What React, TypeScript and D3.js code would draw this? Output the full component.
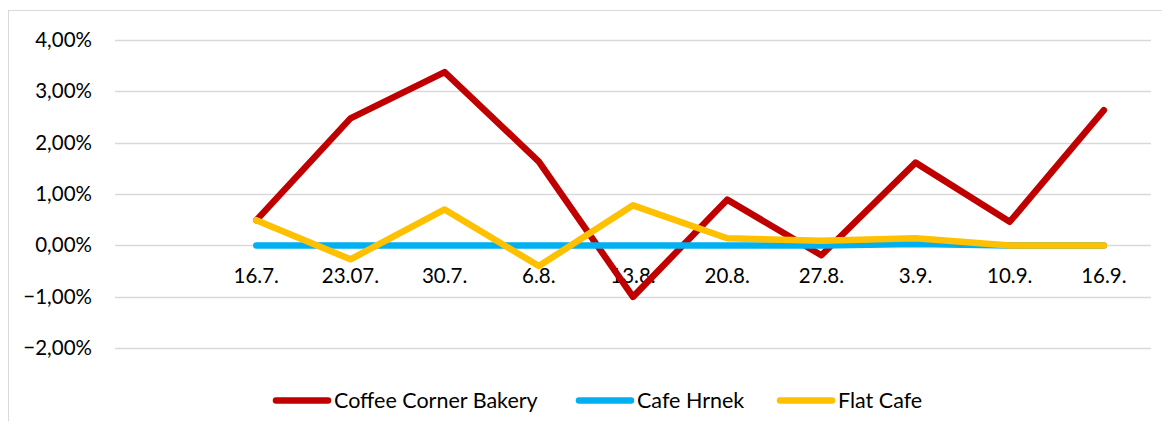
import React, { useEffect, useRef } from "react";
import * as d3 from "d3";

const categories = ["", "16.7.", "23.07.", "30.7.", "6.8.", "13.8.", "20.8.", "27.8.", "3.9.", "10.9.", "16.9."];
const coffeeCorner = [0.49, 2.47, 3.37, 1.63, -1.0, 0.89, -0.19, 1.61, 0.46, 2.63];
const cafeHrnek = [0, 0, 0, 0, 0, 0, 0, 0.03, 0, 0];
const flatCafe = [0.49, -0.27, 0.7, -0.4, 0.78, 0.14, 0.09, 0.14, 0, 0];
const yTicks = [4, 3, 2, 1, 0, -1, -2];
const seriesNames = ["Coffee Corner Bakery", "Cafe Hrnek", "Flat Cafe"];
const seriesColors = ["#c00000", "#00b0f0", "#ffc000"];

const W = 1170;
const H = 429;
const FONT = "Lato, 'Noto Sans', sans-serif";

export default function App() {
  const ref = useRef<SVGSVGElement | null>(null);

  useEffect(() => {
    const svg = d3.select(ref.current);
    svg.selectAll("*").remove();

    const x = d3.scaleBand().domain(categories.map((c, i) => String(i))).range([115, 1151]);
    const y = d3.scaleLinear().domain([-2, 4]).range([348.3, 39.7]);

    svg.append("rect").attr("width", W).attr("height", H).attr("fill", "#fff");
    svg.append("rect")
      .attr("x", 8.5).attr("y", 10.5).attr("width", 1170).attr("height", 430)
      .attr("fill", "none").attr("stroke", "#d9d9d9").attr("stroke-width", 1);

    // gridlines
    svg.append("g").selectAll("line").data(yTicks).join("line")
      .attr("x1", 115).attr("x2", 1151)
      .attr("y1", (d) => Math.round(y(d)) + 0.5).attr("y2", (d) => Math.round(y(d)) + 0.5)
      .attr("stroke", "#d9d9d9").attr("stroke-width", 1.3);

    // y labels
    svg.append("g").selectAll("text").data(yTicks).join("text")
      .attr("x", 92).attr("y", (d) => y(d) + 7)
      .attr("text-anchor", "end")
      .attr("font-family", FONT).attr("font-size", 20.5).attr("fill", "#000")
      .text((d) => d3.format(".2f")(d).replace(".", ",") + "%");

    // x labels
    svg.append("g").selectAll("text").data(categories).join("text")
      .attr("x", (d, i) => (x(String(i)) as number) + x.bandwidth() / 2)
      .attr("y", y(0) + 38)
      .attr("text-anchor", "middle")
      .attr("font-family", FONT).attr("font-size", 20.5).attr("fill", "#000")
      .text((d) => d);

    const line = d3.line<number>()
      .x((d, i) => (x(String(i + 1)) as number) + x.bandwidth() / 2)
      .y((d) => y(d));

    [coffeeCorner, cafeHrnek, flatCafe].forEach((s, k) => {
      svg.append("path").datum(s).attr("d", line)
        .attr("fill", "none").attr("stroke", seriesColors[k])
        .attr("stroke-width", 6.5).attr("stroke-linecap", "round").attr("stroke-linejoin", "round");
    });

    // legend
    const starts = [273, 576, 777];
    const lg = svg.append("g");
    seriesNames.forEach((n, k) => {
      lg.append("line").attr("x1", starts[k] + 3).attr("x2", starts[k] + 55)
        .attr("y1", 400.5).attr("y2", 400.5)
        .attr("stroke", seriesColors[k]).attr("stroke-width", 6.5).attr("stroke-linecap", "round");
      lg.append("text").attr("x", starts[k] + 61).attr("y", 408)
        .attr("font-family", FONT).attr("font-size", 21.5).attr("fill", "#000")
        .text(n);
    });
  }, []);

  return <svg ref={ref} width={W} height={H} style={{ display: "block", margin: "-8px" }} />;
}
